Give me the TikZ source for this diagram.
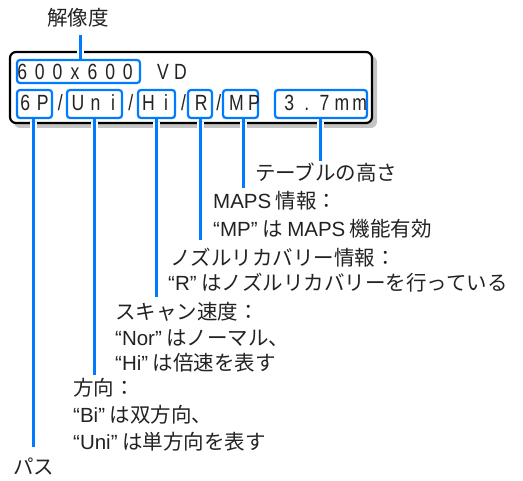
\documentclass[tikz,border=0pt]{standalone}
\usepackage{graphicx}
\usepackage{fontspec}
\setmainfont{Noto Sans CJK JP}
\newfontfamily\lt{Liberation Sans}
\definecolor{lblue}{RGB}{0,122,255}
\definecolor{ink}{RGB}{34,34,34}
\definecolor{shade}{RGB}{196,196,196}
\newcommand\lc[1]{\makebox[17.6pt]{\scalebox{0.8}[1]{#1}}}
\begin{document}
\begin{tikzpicture}[x=1pt,y=-1pt,
  lbl/.style={anchor=base west, inner sep=0pt, font=\fontsize{20.5}{26}\selectfont, text=ink},
  lcdrow/.style={anchor=base west, inner sep=0pt, font=\lt\fontsize{22}{22}\selectfont, text=ink},
  hbox/.style={draw=lblue, line width=2.2pt, rounded corners=3pt, inner sep=0pt},
  conn/.style={draw=lblue, line width=3pt},
  halo/.style={draw=white, line width=7pt, shorten <=3pt, shorten >=3pt},
  panel/.style={draw=black, fill=white, line width=2.2pt, rounded corners=6pt, inner sep=0pt},
  shadowbox/.style={fill=shade, rounded corners=6pt, inner sep=0pt}]
\useasboundingbox (0,0) rectangle (523,481);
% LCD panel
\node[shadowbox, minimum width=363pt, minimum height=72pt] (shd) at (195.5,92) {};
\node[panel, minimum width=362pt, minimum height=71pt] (lcd) at (191,87.5) {};
% highlight boxes
\node[hbox, minimum width=123pt, minimum height=23pt] (bres) at (78.5,71.5) {};
\node[hbox, minimum width=35pt, minimum height=28pt] (bpass) at (34.5,104) {};
\node[hbox, minimum width=55pt, minimum height=28pt] (bdir) at (94.5,104) {};
\node[hbox, minimum width=37pt, minimum height=28pt] (bspd) at (156.5,104) {};
\node[hbox, minimum width=24pt, minimum height=28pt] (brec) at (200,104) {};
\node[hbox, minimum width=35pt, minimum height=28pt] (bmaps) at (240.5,104) {};
\node[hbox, minimum width=92pt, minimum height=28pt] (btbl) at (321,104) {};
% LCD text
\node[lcdrow] (row1) at (13.2,80) {\lc6\lc0\lc0\lc{x}\lc6\lc0\lc0\lc{}\lc{V}\lc{D}};
\node[lcdrow] (row2) at (16.2,111) {\lc6\lc{P}\lc/\lc{U}\lc{n}\lc{i}\lc/\lc{H}\lc{i}\lc/\lc{R}\lc/\lc{M}\lc{P}\lc{}\lc3\lc.\lc7\lc{m}\lc{m}};
% connector ends
\coordinate (eres) at (80,35);
\coordinate (epass) at (33,447);
\coordinate (edir) at (94,375);
\coordinate (espd) at (156,297);
\coordinate (erec) at (200,240);
\coordinate (emaps) at (243,188);
\coordinate (etbl) at (320,161);
% connectors with white halo
\draw[halo] (eres) -- (eres |- bres.north);
\draw[conn] (eres) -- (eres |- bres.north);
\foreach \b/\e in {bpass/epass, bdir/edir, bspd/espd, brec/erec, bmaps/emaps, btbl/etbl}{
  \draw[halo] (\e |- \b.south) -- (\e);
  \draw[conn] (\e |- \b.south) -- (\e);
}
% labels
\node[lbl] (tres) at (47,25.5) {解像度};
\node[lbl] (ttbl) at (255,180.5) {テーブルの高さ};
\node[lbl] (tmaps1) at (213,208.5) {{\lt MAPS} 情報：};
\node[lbl] (tmaps2) at (213,236.5) {{\lt “MP”} は {\lt MAPS} 機能有効};
\node[lbl] (trec1) at (170,265.5) {ノズルリカバリー情報：};
\node[lbl] (trec2) at (168,291) {{\lt “R”} はノズルリカバリーを行っている};
\node[lbl] (tspd1) at (115,319.5) {スキャン速度：};
\node[lbl] (tspd2) at (115,345.5) {{\lt “Nor”} はノーマル、};
\node[lbl] (tspd3) at (115,370.5) {{\lt “Hi”} は倍速を表す};
\node[lbl] (tdir1) at (73,395.5) {方向：};
\node[lbl] (tdir2) at (73,422.5) {{\lt “Bi”} は双方向、};
\node[lbl] (tdir3) at (73,449.5) {{\lt “Uni”} は単方向を表す};
\node[lbl] (tpass) at (13,474.5) {パス};
\end{tikzpicture}
\end{document}
